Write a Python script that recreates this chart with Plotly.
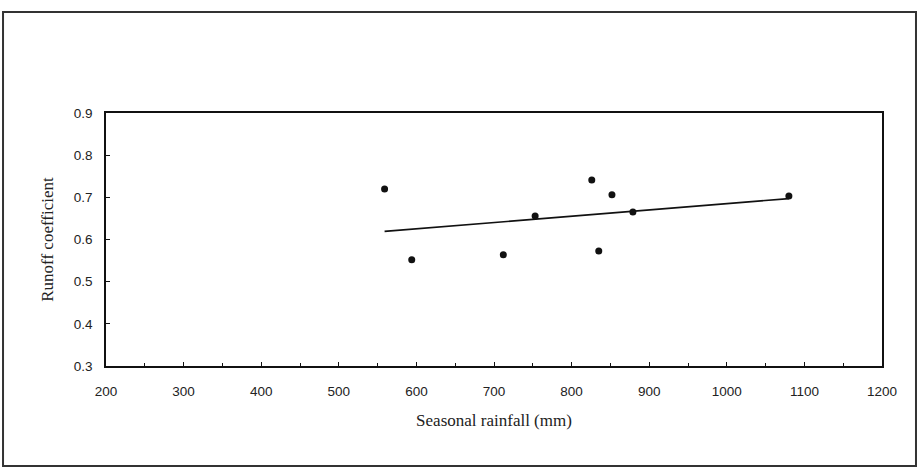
import numpy as np
import plotly.graph_objects as go

# Data
rainfall = [559, 594, 712, 753, 826, 835, 852, 879, 1080]
runoff = [0.720, 0.552, 0.564, 0.656, 0.741, 0.573, 0.706, 0.665, 0.703]

x_title = "Seasonal rainfall (mm)"
y_title = "Runoff coefficient"

# Linear trend fitted to the data
slope, intercept = np.polyfit(rainfall, runoff, 1)
trend_x = [min(rainfall), max(rainfall)]
trend_y = [slope * v + intercept for v in trend_x]

fig = go.Figure()
fig.add_trace(go.Scatter(x=trend_x, y=trend_y, mode="lines",
                         line=dict(color="#111111", width=1.6),
                         showlegend=False, hoverinfo="skip"))
fig.add_trace(go.Scatter(x=rainfall, y=runoff, mode="markers",
                         marker=dict(color="#111111", size=7),
                         showlegend=False))

title_font = dict(family="Liberation Serif, Times New Roman, serif", size=17, color="#222222")

fig.update_layout(
    width=919, height=470,
    margin=dict(l=106, r=37, t=113, b=104),
    paper_bgcolor="white", plot_bgcolor="white",
    font=dict(family="Liberation Sans, Arial, sans-serif", size=13.5, color="#222222"),
    xaxis=dict(range=[200, 1200], dtick=100, tick0=200, showgrid=False, zeroline=False,
               showline=True, linecolor="#111111", linewidth=1.5, mirror=True,
               ticks="inside", ticklen=4, tickcolor="#111111",
               minor=dict(dtick=50, ticks="inside", ticklen=3, tickcolor="#111111"),
               ticklabelstandoff=12,
               title=dict(text=x_title, standoff=16, font=title_font)),
    yaxis=dict(range=[0.3, 0.9], dtick=0.1, tick0=0.3, showgrid=False, zeroline=False,
               tickformat=".1f",
               showline=True, linecolor="#111111", linewidth=1.5, mirror=True,
               ticks="inside", ticklen=4, tickcolor="#111111",
               ticklabelstandoff=9,
               title=dict(text=y_title, standoff=16, font=title_font)),
    shapes=[dict(type="rect", xref="paper", yref="paper",
                 x0=-0.1327, x1=1.0438, y0=-0.395, y1=1.399,
                 line=dict(color="#333333", width=2), fillcolor="rgba(0,0,0,0)", layer="below")],
)

fig.write_html("out.html")
